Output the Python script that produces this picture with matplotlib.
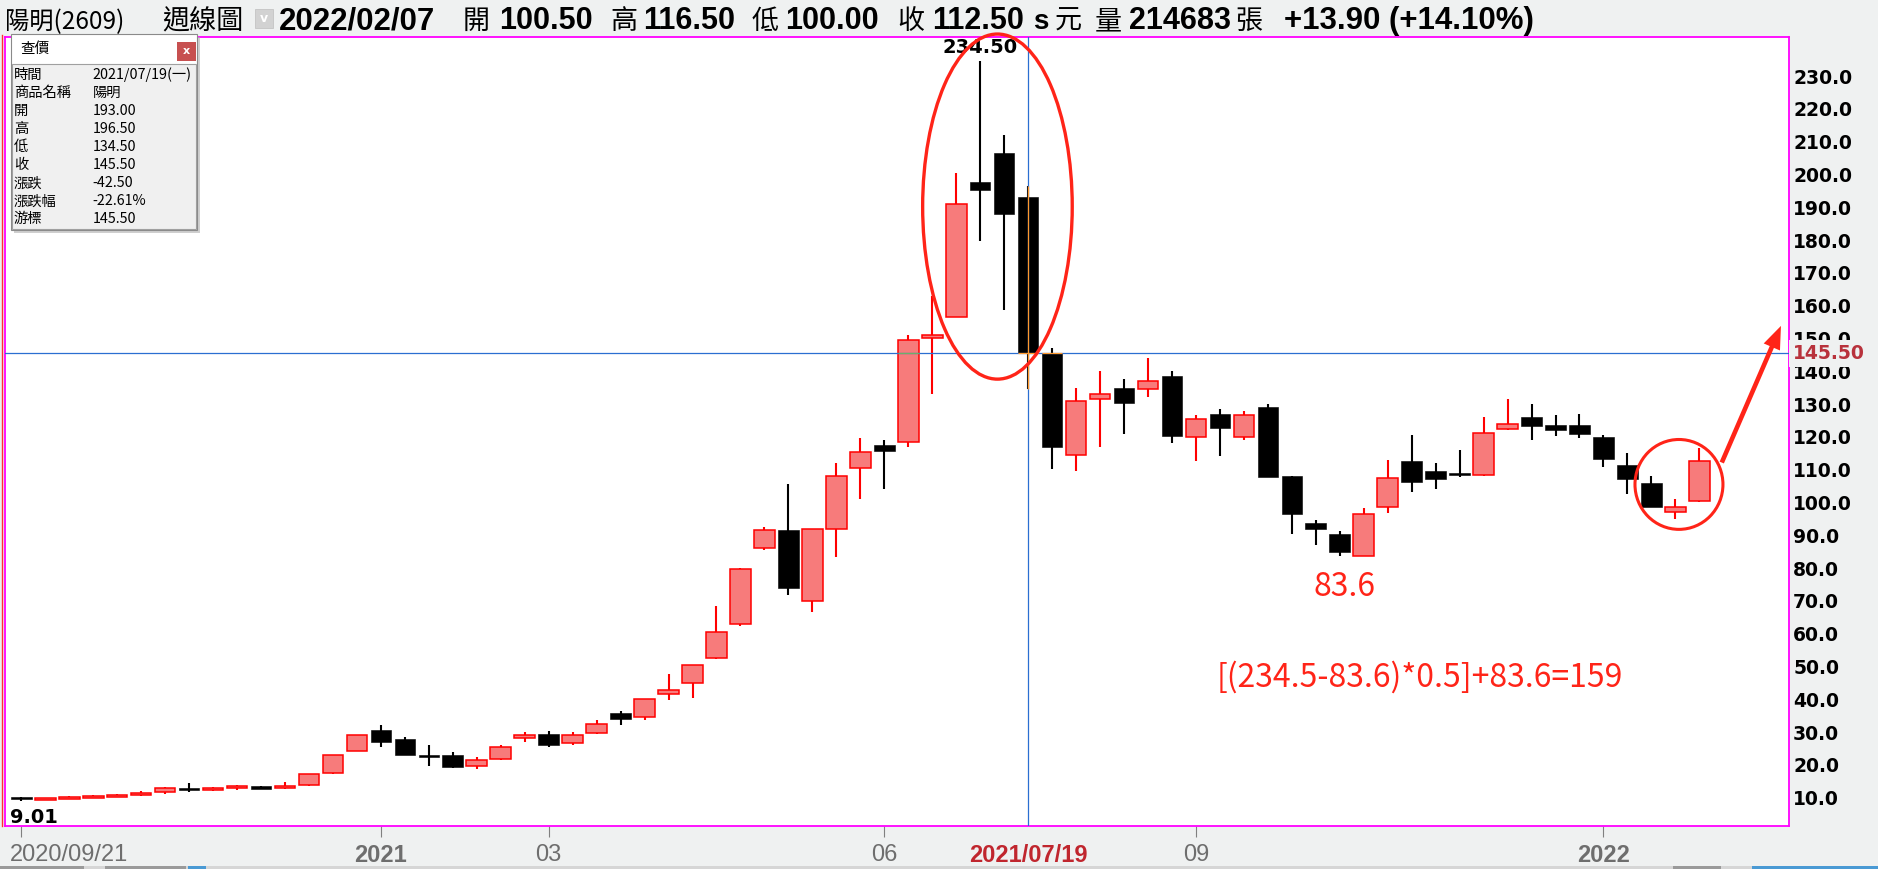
"""
Weekly candlestick chart of 陽明(2609), styled like a broker's quote window.
"""

import datetime as dt
import numpy as np
import matplotlib
matplotlib.use("Agg")
import matplotlib.pyplot as plt
from matplotlib.patches import Rectangle, Ellipse, FancyArrowPatch
from matplotlib.transforms import blended_transform_factory

W, H, DPI = 1878, 869, 100
CJK = ["Noto Sans CJK TC", "DejaVu Sans"]
NUM = ["Liberation Sans", "DejaVu Sans"]

BG      = "#eff1f1"
RED     = "#ff0000"
UPFILL  = "#f77b7b"
MARK    = "#ff2418"
CROSS   = "#2b6fd1"
BORDER  = "#ff00ff"

# ── data ──────────────────────────────────────────────────────────────────────
stock_name, stock_code = "陽明", "2609"
first_week   = dt.date(2020, 9, 21)
last_week    = dt.date(2022, 2, 7)
closed_weeks = [dt.date(2021, 2, 8), dt.date(2022, 1, 31)]   # lunar new year
cursor_date  = dt.date(2021, 7, 19)
volume_last  = 214683

opens  = [10.0, 9.5, 9.8, 10.1, 10.4, 10.9, 11.6, 13.1, 12.5, 12.9,
          13.6, 12.9, 13.8, 17.4, 24.2, 30.5, 27.8, 22.9, 22.9, 19.6,
          21.9, 28.1, 29.4, 26.6, 29.6, 35.7, 34.5, 41.5, 44.9, 52.5,
          62.9, 86.0, 91.5, 70.0, 91.8, 110.4, 117.4, 118.3, 150.0, 156.5,
          197.8, 206.4, 193.0, 145.5, 114.4, 131.4, 134.8, 134.5, 138.6, 119.9,
          126.9, 119.9, 129.0, 108.1, 93.7, 90.4, 83.8, 98.5, 112.6, 109.6,
          109.0, 108.3, 122.3, 126.1, 123.5, 123.5, 120.0, 111.4, 105.9, 97.0,
          100.5]
highs  = [10.1, 10.0, 10.5, 10.7, 11.1, 12.0, 13.3, 14.5, 13.4, 13.9,
          13.7, 14.8, 17.2, 23.0, 29.1, 32.2, 28.5, 26.1, 23.9, 22.3,
          26.1, 30.0, 30.3, 30.0, 33.7, 36.4, 40.1, 47.7, 50.4, 68.4,
          80.1, 92.4, 105.5, 91.8, 111.9, 119.6, 119.0, 151.0, 163.0, 200.5,
          234.5, 211.9, 196.5, 147.0, 134.9, 140.1, 137.6, 144.0, 140.1, 126.6,
          128.5, 127.8, 129.9, 108.1, 94.7, 91.4, 98.3, 112.9, 120.6, 112.0,
          116.0, 126.1, 131.6, 130.0, 126.7, 127.0, 120.5, 115.1, 108.1, 101.1,
          116.5]
lows   = [9.01, 9.2, 9.6, 9.8, 10.1, 10.5, 11.2, 11.8, 11.9, 12.4,
          12.5, 12.5, 13.7, 17.3, 24.1, 25.6, 23.0, 19.8, 19.1, 18.6,
          21.5, 27.0, 25.5, 26.2, 29.5, 32.3, 33.8, 39.9, 40.5, 52.4,
          62.4, 85.5, 71.8, 66.6, 83.5, 101.0, 104.0, 116.8, 133.0, 156.5,
          179.8, 158.8, 134.5, 110.3, 109.7, 116.8, 121.0, 132.3, 118.2, 112.7,
          114.3, 118.9, 107.9, 90.5, 87.1, 83.6, 83.6, 96.9, 103.2, 104.1,
          107.8, 108.2, 122.2, 118.9, 120.4, 119.8, 110.9, 102.7, 98.7, 95.1,
          100.0]
closes = [9.55, 9.8, 10.1, 10.5, 10.8, 11.4, 13.0, 12.3, 12.9, 13.6,
          12.8, 13.6, 17.1, 22.9, 29.0, 27.1, 23.1, 22.8, 19.5, 21.4,
          25.35, 29.0, 26.0, 29.0, 32.35, 33.9, 40.0, 42.7, 50.35, 60.4,
          79.6, 91.5, 74.0, 91.8, 108.1, 115.3, 115.8, 149.4, 151.0, 190.9,
          195.4, 188.0, 145.5, 116.8, 130.9, 133.0, 130.4, 137.0, 120.4, 125.4,
          122.8, 126.6, 107.9, 96.6, 92.0, 84.9, 96.4, 107.4, 106.3, 107.3,
          108.3, 121.1, 123.8, 123.3, 122.2, 121.0, 113.4, 107.3, 98.7, 98.6,
          112.5]

yticks      = list(range(10, 231, 10))
tick_months = [(2021, 1), (2021, 3), (2021, 6), (2021, 9), (2022, 1)]

# ── derived ───────────────────────────────────────────────────────────────────
dates = []
d = first_week
while d <= last_week:
    if d not in closed_weeks:
        dates.append(d)
    d += dt.timedelta(weeks=1)

o, hi, lo, c = (np.array(a, dtype=float) for a in (opens, highs, lows, closes))
x  = np.arange(len(dates))
up = c > o

fig = plt.figure(figsize=(W / DPI, H / DPI), dpi=DPI, facecolor=BG)

# main price panel (pixel box 5..1789 x 37..826)
ax = fig.add_axes([5 / W, (H - 826) / H, 1784 / W, 789 / H])
ax.set_facecolor("white")
for s in ax.spines.values():
    s.set_color(BORDER); s.set_linewidth(1.3)
ax.set_xlim(-0.68, 73.74)
ax.set_ylim(1.37, 241.9)

# candles
bw = 0.86
body_h  = np.maximum(np.abs(c - o), 0.6)
body_lo = (o + c) / 2 - body_h / 2
ax.vlines(x[up], lo[up], hi[up], color=RED, lw=1.5, zorder=2)
ax.vlines(x[~up], lo[~up], hi[~up], color="black", lw=1.5, zorder=2)
ax.bar(x[up], body_h[up], bottom=body_lo[up], width=bw, color=UPFILL,
       edgecolor=RED, lw=1.1, zorder=3)
ax.bar(x[~up], body_h[~up], bottom=body_lo[~up], width=bw, color="black",
       edgecolor="black", lw=0.4, zorder=3)

# cursor cross-hair
ci  = dates.index(cursor_date)
cur = c[ci]
ax.axhline(cur, color=CROSS, lw=0.9, zorder=4)
ax.axvline(ci, color=CROSS, lw=0.9, zorder=4)
ax.vlines(ci, lo[ci], hi[ci], color="#ff9a2e", lw=0.9, zorder=5)
for i in x:
    if min(o[i], c[i]) <= cur <= max(o[i], c[i]):
        ax.hlines(cur, i - bw / 2, i + bw / 2, lw=0.9, zorder=5,
                  color="#6ab06a" if up[i] else "#ff9a2e")

# y axis on the right
ax.yaxis.tick_right()
ax.set_yticks(yticks)
ax.set_yticklabels([f"{v:.1f}" for v in yticks], fontweight="bold",
                   family="DejaVu Sans", fontsize=13.5)
ax.tick_params(axis="y", length=0, pad=3)
ax.annotate(f"{cur:.2f}", xy=(1, cur), xycoords=("axes fraction", "data"),
            xytext=(3, 0), textcoords="offset points", va="center", ha="left",
            fontsize=13.5, fontweight="bold", family="DejaVu Sans", color="#b8323c",
            bbox=dict(boxstyle="square,pad=0.22", fc=BG, ec="none"), annotation_clip=False)

# x axis ticks and labels
tick_idx = [0] + [next(i for i, dd in enumerate(dates) if (dd.year, dd.month) == ym)
                  for ym in tick_months]
ax.set_xticks(tick_idx)
ax.tick_params(axis="x", length=8, width=0.8, color="#808080", labelbottom=False)
trans = blended_transform_factory(ax.transData, ax.transAxes)
for i in tick_idx:
    dd = dates[i]
    if i == 0:
        lab, kw = dd.strftime("%Y/%m/%d"), dict(ha="left", fontweight="normal")
        xi = i - 0.48
    elif dd.month == 1:
        lab, kw, xi = str(dd.year), dict(ha="center", fontweight="bold"), i
    else:
        lab, kw, xi = f"{dd.month:02d}", dict(ha="center", fontweight="normal"), i
    ax.annotate(lab, xy=(xi, 0), xycoords=trans, xytext=(0, -21),
                textcoords="offset points", va="center", color="#6e6e6e",
                fontsize=17, family=NUM, annotation_clip=False, **kw)
ax.annotate(cursor_date.strftime("%Y/%m/%d"), xy=(ci, 0), xycoords=trans,
            xytext=(0, -21), textcoords="offset points", va="center", ha="center",
            color="#c0262e", fontsize=17, fontweight="bold", family=NUM,
            annotation_clip=False)

# extreme labels: all-time low, the peak, and the trough after the peak
imax, imin = int(np.argmax(hi)), int(np.argmin(lo))
itr = imax + int(np.argmin(lo[imax:]))
ax.annotate(f"{hi[imax]:.2f}", xy=(imax, hi[imax]), xytext=(0, 3),
            textcoords="offset points", ha="center", va="bottom", fontsize=14,
            fontweight="bold", family="DejaVu Sans", annotation_clip=False)
ax.annotate(f"{lo[imin]:.2f}", xy=(imin, lo[imin]), xytext=(-8, -5),
            textcoords="offset points", ha="left", va="top", fontsize=14,
            fontweight="bold", family="DejaVu Sans")

# hand-drawn marks
ax.add_patch(Ellipse((40.72, 190.2), 6.24, 105.2, fill=False, ec=MARK,
                     lw=2.4, zorder=6, clip_on=False))
ax.add_patch(Ellipse((69.15, 105.5), 3.67, 27.4, fill=False, ec=MARK,
                     lw=2.2, zorder=6))
ax.add_patch(FancyArrowPatch((70.89, 111.4), (73.45, 154.6),
                             arrowstyle="simple,head_length=1.1,head_width=0.85,tail_width=0.22",
                             mutation_scale=15, color=MARK, lw=0, zorder=6))

trough, peak = lo[itr], hi[imax]
ax.text(itr + 0.18, trough - 9.4, f"{trough:.1f}", color=MARK, fontsize=23,
        family=CJK, ha="center", va="center")
ax.text(49.85, 46.8,
        f"[({peak:.1f}-{trough:.1f})*0.5]+{trough:.1f}={(peak - trough) * 0.5 + trough:.0f}",
        color=MARK, fontsize=23, family=CJK, ha="left", va="center")

# ── overlay in pixel units: header, quote box, window edges ─────────────────
ov = fig.add_axes([0, 0, 1, 1])
ov.set_xlim(0, W); ov.set_ylim(H, 0); ov.axis("off")

ov.plot([1.5, 1.5], [35, 826], color="#ff3030", lw=1.0)
ov.add_patch(Rectangle((0, 866), W, 3, color="#d6d6d6", lw=0))
ov.add_patch(Rectangle((0, 866), 84, 3, color="#9a9a9a", lw=0))
ov.add_patch(Rectangle((105, 866), 81, 3, color="#9a9a9a", lw=0))
ov.add_patch(Rectangle((188, 866), 18, 3, color="#4a9ad4", lw=0))
ov.add_patch(Rectangle((1673, 866), 48, 3, color="#9a9a9a", lw=0))
ov.add_patch(Rectangle((1752, 866), W - 1752, 3, color="#4a9ad4", lw=0))

# header line
chg = c[-1] - c[-2]
pct = chg / c[-2] * 100
header = [
    (f"{stock_name}({stock_code})", 5, False, 17.5),
    ("週線圖", 162, False, 19.5),
    (dates[-1].strftime("%Y/%m/%d"), 279, True, 22.5),
    ("開", 463, False, 19.5), (f"{o[-1]:.2f}", 499, True, 22),
    ("高", 610, False, 19.5), (f"{hi[-1]:.2f}", 643, True, 22),
    ("低", 752, False, 19.5), (f"{lo[-1]:.2f}", 785, True, 22),
    ("收", 897, False, 19.5), (f"{c[-1]:.2f}", 932, True, 22),
    ("s", 1033, True, 20), ("元", 1055, False, 19.5),
    ("量", 1095, False, 19.5), (str(volume_last), 1129, True, 22),
    ("張", 1235, False, 19.5),
    (f"{chg:+.2f} ({pct:+.2f}%)", 1284, True, 22.5),
]
for txt, px, bold, fs in header:
    if bold:
        ov.text(px, 29, txt, fontsize=fs, fontweight="bold", family=NUM, va="baseline")
    else:
        ov.text(px, 29, txt, fontsize=fs, family=CJK, va="baseline")
ov.add_patch(Rectangle((255, 9), 18, 19, fc="#d2d2d2", ec="#c4c4c4", lw=0.6))
ov.text(264, 18.5, "v", color="white", fontsize=9, ha="center", va="center",
        fontweight="bold")

# quote box for the cursor week
bx0, by0, bx1, by1 = 11, 34, 197, 230
ov.add_patch(Rectangle((bx0 + 3, by0 + 3), bx1 - bx0, by1 - by0, fc="#b0b0b0",
                       ec="none", alpha=0.6, zorder=1))
ov.add_patch(Rectangle((bx0, by0), bx1 - bx0, by1 - by0, fc="white",
                       ec="#8a8a8a", lw=0.8, zorder=2))
ov.add_patch(Rectangle((bx0 + 1, 64), bx1 - bx0 - 2, by1 - 65, fc="#f0f0f0",
                       ec="#a0a0a0", lw=0.8, zorder=3))
ov.add_patch(Rectangle((177, 42), 19, 19, fc="#c75050", ec="none", zorder=3))
ov.text(186.5, 51, "x", color="white", fontsize=8, ha="center", va="center",
        fontweight="bold", zorder=4)
ov.text(20, 49, "查價", fontsize=10.5, family=CJK, va="center", zorder=4)

wk = "一二三四五六日"[cursor_date.weekday()]
dchg = c[ci] - c[ci - 1]
rows = [
    ("時間", f"{cursor_date:%Y/%m/%d}({wk})"),
    ("商品名稱", stock_name),
    ("開", f"{o[ci]:.2f}"),
    ("高", f"{hi[ci]:.2f}"),
    ("低", f"{lo[ci]:.2f}"),
    ("收", f"{c[ci]:.2f}"),
    ("漲跌", f"{dchg:.2f}"),
    ("漲跌幅", f"{dchg / c[ci - 1] * 100:.2f}%"),
    ("游標", f"{cur:.2f}"),
]
for k, (lab, val) in enumerate(rows):
    yy = 75 + k * 18.05
    ov.text(14, yy, lab, fontsize=10.3, family=CJK, va="center", zorder=4)
    ov.text(92.5, yy, val, fontsize=10.3, family=CJK, va="center", zorder=4)

fig.savefig("out.png", dpi=DPI, facecolor=BG)
